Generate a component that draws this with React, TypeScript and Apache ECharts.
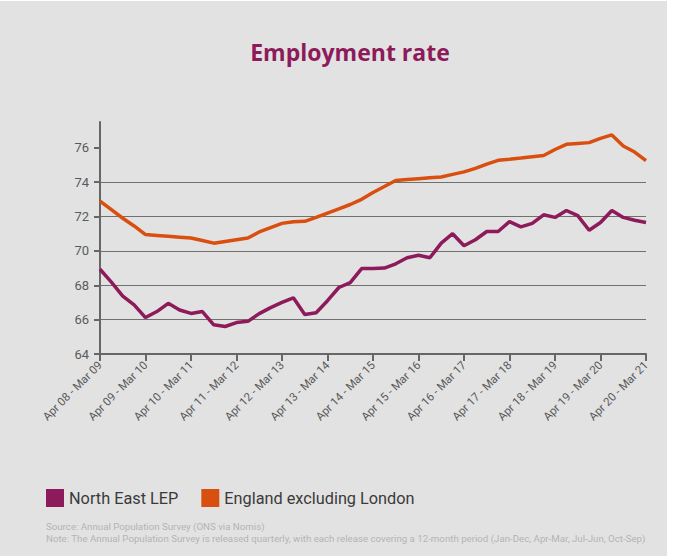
import React, { useEffect, useRef } from "react";
import * as echarts from "echarts";

const periods: string[] = [
  "Apr 08 - Mar 09", "Jul 08 - Jun 09", "Oct 08 - Sep 09", "Jan 09 - Dec 09",
  "Apr 09 - Mar 10", "Jul 09 - Jun 10", "Oct 09 - Sep 10", "Jan 10 - Dec 10",
  "Apr 10 - Mar 11", "Jul 10 - Jun 11", "Oct 10 - Sep 11", "Jan 11 - Dec 11",
  "Apr 11 - Mar 12", "Jul 11 - Jun 12", "Oct 11 - Sep 12", "Jan 12 - Dec 12",
  "Apr 12 - Mar 13", "Jul 12 - Jun 13", "Oct 12 - Sep 13", "Jan 13 - Dec 13",
  "Apr 13 - Mar 14", "Jul 13 - Jun 14", "Oct 13 - Sep 14", "Jan 14 - Dec 14",
  "Apr 14 - Mar 15", "Jul 14 - Jun 15", "Oct 14 - Sep 15", "Jan 15 - Dec 15",
  "Apr 15 - Mar 16", "Jul 15 - Jun 16", "Oct 15 - Sep 16", "Jan 16 - Dec 16",
  "Apr 16 - Mar 17", "Jul 16 - Jun 17", "Oct 16 - Sep 17", "Jan 17 - Dec 17",
  "Apr 17 - Mar 18", "Jul 17 - Jun 18", "Oct 17 - Sep 18", "Jan 18 - Dec 18",
  "Apr 18 - Mar 19", "Jul 18 - Jun 19", "Oct 18 - Sep 19", "Jan 19 - Dec 19",
  "Apr 19 - Mar 20", "Jul 19 - Jun 20", "Oct 19 - Sep 20", "Jan 20 - Dec 20",
  "Apr 20 - Mar 21",
];

const northEastLEP: number[] = [
  68.93, 68.18, 67.37, 66.86, 66.12, 66.47, 66.95, 66.56, 66.36, 66.47,
  65.7, 65.6, 65.83, 65.9, 66.35, 66.7, 67.0, 67.27, 66.3, 66.4,
  67.1, 67.87, 68.15, 68.97, 68.97, 69.0, 69.25, 69.6, 69.75, 69.6,
  70.45, 71.0, 70.3, 70.65, 71.13, 71.13, 71.7, 71.4, 71.6, 72.1,
  71.95, 72.35, 72.05, 71.2, 71.65, 72.35, 71.95, 71.78, 71.65,
];

const englandExclLondon: number[] = [
  72.9, 72.4, 71.9, 71.45, 70.95, 70.9, 70.85, 70.8, 70.75, 70.6,
  70.45, 70.55, 70.65, 70.75, 71.1, 71.35, 71.6, 71.7, 71.72, 71.95,
  72.2, 72.45, 72.7, 73.0, 73.4, 73.75, 74.1, 74.15, 74.2, 74.25,
  74.3, 74.45, 74.6, 74.8, 75.05, 75.27, 75.33, 75.4, 75.48, 75.55,
  75.9, 76.2, 76.25, 76.3, 76.55, 76.75, 76.1, 75.75, 75.25,
];

const yTickValues: number[] = [64, 66, 68, 70, 72, 74, 76];

const titleText = "Employment rate";
const seriesNames = ["North East LEP", "England excluding London"];
const sourceLines = [
  "Source: Annual Population Survey (ONS via Nomis)",
  "Note: The Annual Population Survey is released quarterly, with each release covering a 12-month period (Jan-Dec, Apr-Mar, Jul-Jun, Oct-Sep)",
];

const PURPLE = "#8d1a5a";
const ORANGE = "#d94f0f";
const FONT = "Roboto, 'Noto Sans', sans-serif";

export default function App() {
  const ref = useRef<HTMLDivElement>(null);

  useEffect(() => {
    document.body.style.margin = "0";
    if (!ref.current) return;
    const chart = echarts.init(ref.current, undefined, { renderer: "svg" });
    chart.setOption({
      animation: false,
      backgroundColor: "#e2e2e2",
      textStyle: { fontFamily: FONT },
      grid: { left: 100, right: 21, top: 121, bottom: 202, containLabel: false },
      legend: {
        left: 46,
        top: 488,
        padding: 0,
        icon: "rect",
        itemWidth: 18,
        itemHeight: 18,
        itemGap: 23,
        textStyle: { fontSize: 16.3, color: "#3a3a3a", fontFamily: FONT },
        data: seriesNames,
      },
      xAxis: {
        type: "category",
        data: periods,
        boundaryGap: false,
        axisLine: { lineStyle: { color: "#666", width: 2 } },
        axisTick: { interval: 3, length: 7, lineStyle: { color: "#666", width: 2 } },
        axisLabel: {
          interval: 3,
          rotate: 45,
          fontSize: 11.5,
          color: "#5a5a5a",
          margin: 9,
          fontFamily: FONT,
        },
        splitLine: { show: false },
      },
      yAxis: {
        type: "value",
        min: 64,
        max: 77.5,
        interval: 2,
        axisLine: { show: true, lineStyle: { color: "#666", width: 2 } },
        axisTick: {
          show: true,
          length: 6,
          customValues: yTickValues,
          lineStyle: { color: "#666", width: 2 },
        },
        axisLabel: {
          customValues: yTickValues,
          fontSize: 13,
          color: "#5a5a5a",
          margin: 11,
          fontFamily: FONT,
        },
        splitLine: {
          show: true,
          showMaxLine: false,
          lineStyle: { color: "#707070", width: 1 },
        },
      },
      series: [
        {
          name: seriesNames[0],
          type: "line",
          data: northEastLEP,
          showSymbol: false,
          symbol: "none",
          lineStyle: { color: PURPLE, width: 3.5 },
          itemStyle: { color: PURPLE },
          z: 3,
        },
        {
          name: seriesNames[1],
          type: "line",
          data: englandExclLondon,
          showSymbol: false,
          symbol: "none",
          lineStyle: { color: ORANGE, width: 3.5 },
          itemStyle: { color: ORANGE },
          z: 2,
        },
      ],
      graphic: [
        {
          type: "text",
          x: 350,
          y: 51,
          style: {
            text: titleText,
            fill: PURPLE,
            font: `bold 23px 'Open Sans', ${FONT}`,
            textAlign: "center",
            textVerticalAlign: "middle",
          },
        },
        {
          type: "text",
          x: 46,
          y: 525,
          style: {
            text: sourceLines[0],
            fill: "#b4b4b4",
            font: `9.7px ${FONT}`,
            textVerticalAlign: "middle",
          },
        },
        {
          type: "text",
          x: 46,
          y: 537,
          style: {
            text: sourceLines[1],
            fill: "#b4b4b4",
            font: `9.7px ${FONT}`,
            textVerticalAlign: "middle",
          },
        },
      ],
    });
    return () => chart.dispose();
  }, []);

  return (
    <div style={{ width: 674, height: 556, background: "#ffffff", position: "relative" }}>
      <div
        ref={ref}
        style={{ position: "absolute", left: 0, top: 1, width: 667, height: 555 }}
      />
    </div>
  );
}
